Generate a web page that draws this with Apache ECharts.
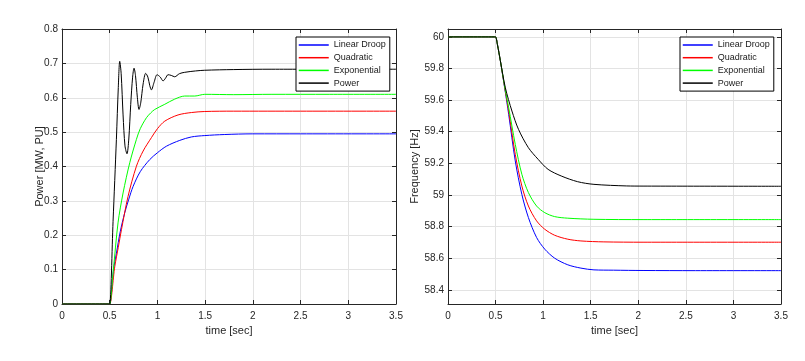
<!DOCTYPE html>
<html>
<head>
<meta charset="utf-8">
<script src="https://cdn.jsdelivr.net/npm/echarts@6/dist/echarts.min.js"></script>
<style>
html,body{margin:0;padding:0;background:#fff;}
#chart{width:805px;height:361px;}
</style>
</head>
<body>
<div id="chart"></div>
<script>
// ---- data (time [sec], value) ----
const seriesNames = ['Linear Droop', 'Quadratic', 'Exponential', 'Power'];
const seriesColors = ['#0000ff', '#ff0000', '#00ff00', '#000000'];

const xTicks = [0, 0.5, 1, 1.5, 2, 2.5, 3, 3.5];
const powerTicks = [0, 0.1, 0.2, 0.3, 0.4, 0.5, 0.6, 0.7, 0.8];
const freqTicks = [58.4, 58.6, 58.8, 59, 59.2, 59.4, 59.6, 59.8, 60];

// Left panel: Power [MW, PU]
const powerLinearDroop = [[0,0],[0.49,0],[0.5,0],[0.54,0.1],[0.57,0.148],[0.61,0.21],[0.657,0.265],[0.7,0.305],[0.745,0.342],[0.82,0.385],[0.919,0.42],[1.0,0.44],[1.094,0.459],[1.234,0.476],[1.356,0.486],[1.496,0.49],[1.7,0.493],[2.0,0.495],[2.5,0.495],[3.5,0.495]];
const powerQuadratic = [[0,0],[0.49,0],[0.5,0],[0.553,0.109],[0.59,0.165],[0.623,0.216],[0.692,0.313],[0.78,0.401],[0.85,0.445],[0.937,0.484],[1.0,0.51],[1.077,0.532],[1.216,0.55],[1.356,0.557],[1.496,0.56],[1.8,0.561],[2.5,0.561],[3.5,0.561]];
const powerExponential = [[0,0],[0.49,0],[0.5,0],[0.535,0.09],[0.587,0.236],[0.64,0.323],[0.71,0.411],[0.78,0.479],[0.82,0.51],[0.885,0.542],[0.93,0.556],[0.972,0.566],[1.077,0.581],[1.181,0.596],[1.286,0.605],[1.391,0.605],[1.496,0.61],[1.8,0.609],[2.2,0.61],[2.8,0.61],[3.5,0.61]];
const powerPower = [[0,0],[0.49,0],[0.5,0],[0.535,0.24],[0.57,0.479],[0.59,0.63],[0.605,0.706],[0.62,0.67],[0.64,0.55],[0.66,0.46],[0.681,0.437],[0.7,0.48],[0.72,0.58],[0.74,0.66],[0.755,0.686],[0.77,0.665],[0.79,0.6],[0.807,0.566],[0.825,0.585],[0.85,0.64],[0.877,0.671],[0.9,0.66],[0.92,0.635],[0.937,0.623],[0.965,0.645],[0.996,0.667],[1.03,0.66],[1.059,0.649],[1.085,0.657],[1.111,0.667],[1.145,0.665],[1.181,0.661],[1.23,0.67],[1.286,0.674],[1.4,0.678],[1.496,0.68],[1.8,0.682],[2.2,0.683],[3.5,0.683]];

// Right panel: Frequency [Hz]
const freqLinearDroop = [[0,60],[0.49,60],[0.5,60],[0.52,59.95],[0.55,59.85],[0.6,59.66],[0.638,59.509],[0.707,59.215],[0.776,59.004],[0.845,58.857],[0.931,58.731],[1.017,58.657],[1.121,58.6],[1.259,58.558],[1.397,58.537],[1.534,58.526],[1.741,58.524],[2.05,58.522],[2.6,58.521],[3.5,58.521]];
const freqQuadratic = [[0,60],[0.49,60],[0.5,60],[0.52,59.95],[0.55,59.85],[0.6,59.665],[0.638,59.53],[0.707,59.257],[0.776,59.057],[0.845,58.93],[0.931,58.836],[1.017,58.783],[1.121,58.745],[1.259,58.72],[1.397,58.709],[1.638,58.703],[2.05,58.701],[3.5,58.701]];
const freqExponential = [[0,60],[0.49,60],[0.5,60],[0.52,59.95],[0.55,59.85],[0.6,59.67],[0.638,59.552],[0.707,59.32],[0.776,59.131],[0.845,59.015],[0.931,58.93],[1.017,58.888],[1.121,58.863],[1.259,58.853],[1.534,58.846],[2.05,58.844],[3.5,58.844]];
const freqPower = [[0,60],[0.49,60],[0.5,60],[0.52,59.95],[0.55,59.85],[0.603,59.678],[0.672,59.531],[0.741,59.415],[0.845,59.299],[0.948,59.225],[1.052,59.162],[1.19,59.12],[1.362,59.084],[1.534,59.067],[1.879,59.057],[2.05,59.056],[3.5,59.055]];

const powerData = [powerLinearDroop, powerQuadratic, powerExponential, powerPower];
const freqData = [freqLinearDroop, freqQuadratic, freqExponential, freqPower];

// ---- chart ----
const AX = '#262626';
const GRID = '#e3e3e3';
const FONT = 'Liberation Sans, Arial, sans-serif';

function mainX(gi) {
  return {
    type: 'value', gridIndex: gi, min: 0, max: 3.5, interval: 0.5,
    name: 'time [sec]', nameLocation: 'middle', nameGap: 21, nameMoveOverlap: false,
    nameTextStyle: {color: AX, fontSize: 11, fontFamily: FONT},
    axisLine: {show: true, onZero: false, lineStyle: {color: AX, width: 1}},
    axisTick: {show: true, inside: true, length: 4, lineStyle: {color: AX}},
    axisLabel: {color: AX, fontSize: 10, fontFamily: FONT, margin: 7},
    splitLine: {show: true, lineStyle: {color: GRID, width: 1}}
  };
}
function topX(gi) {
  return {
    type: 'value', gridIndex: gi, min: 0, max: 3.5, interval: 0.5, position: 'top',
    axisLine: {show: true, onZero: false, lineStyle: {color: AX, width: 1}},
    axisTick: {show: true, inside: true, length: 4, lineStyle: {color: AX}},
    axisLabel: {show: false}, splitLine: {show: false}
  };
}

const option = {
  backgroundColor: '#ffffff',
  animation: false,
  grid: [
    {left: 62, top: 29, width: 334, height: 275},
    {left: 448, top: 29, width: 333, height: 275}
  ],
  xAxis: [mainX(0), mainX(1), topX(0), topX(1)],
  yAxis: [
    {
      type: 'value', gridIndex: 0, min: 0, max: 0.8, interval: 0.1,
      name: 'Power [MW, PU]', nameLocation: 'middle', nameGap: 17, nameMoveOverlap: false,
      nameTextStyle: {color: AX, fontSize: 11, fontFamily: FONT},
      axisLine: {show: true, onZero: false, lineStyle: {color: AX, width: 1}},
      axisTick: {show: true, inside: true, length: 4, lineStyle: {color: AX}},
      axisLabel: {color: AX, fontSize: 10, fontFamily: FONT, margin: 4},
      splitLine: {show: true, lineStyle: {color: GRID, width: 1}}
    },
    {
      type: 'value', gridIndex: 1, min: 58.31, max: 60.05,
      name: 'Frequency [Hz]', nameLocation: 'middle', nameGap: 28, nameMoveOverlap: false,
      nameTextStyle: {color: AX, fontSize: 11, fontFamily: FONT},
      axisLine: {show: true, onZero: false, lineStyle: {color: AX, width: 1}},
      axisTick: {show: true, inside: true, length: 4, lineStyle: {color: AX}, customValues: freqTicks},
      axisLabel: {color: AX, fontSize: 10, fontFamily: FONT, margin: 4, customValues: freqTicks,
        formatter: v => String(Math.round(v * 10) / 10)},
      splitLine: {show: true, lineStyle: {color: GRID, width: 1}}
    },
    {
      type: 'value', gridIndex: 0, min: 0, max: 0.8, interval: 0.1, position: 'right',
      axisLine: {show: true, onZero: false, lineStyle: {color: AX, width: 1}},
      axisTick: {show: true, inside: true, length: 4, lineStyle: {color: AX}},
      axisLabel: {show: false}, splitLine: {show: false}
    },
    {
      type: 'value', gridIndex: 1, min: 58.31, max: 60.05, position: 'right',
      axisLine: {show: true, onZero: false, lineStyle: {color: AX, width: 1}},
      axisTick: {show: true, inside: true, length: 4, lineStyle: {color: AX}, customValues: freqTicks},
      axisLabel: {show: false}, splitLine: {show: false}
    }
  ],
  legend: [0, 1].map(i => ({
    data: seriesNames,
    orient: 'vertical',
    left: i === 0 ? 296 : 680,
    top: 37,
    itemWidth: 30, itemHeight: 11, itemGap: 1.7,
    padding: [2.5, 4, 2.5, 2],
    backgroundColor: '#ffffff',
    borderColor: '#000000', borderWidth: 1, borderRadius: 0,
    itemStyle: {color: 'rgba(0,0,0,0)', borderWidth: 0, borderColor: 'rgba(0,0,0,0)'},
    lineStyle: {width: 1.5},
    textStyle: {color: '#1a1a1a', fontSize: 9, fontFamily: FONT, lineHeight: 11},
    selectedMode: false
  })),
  series: []
};

seriesNames.forEach((name, k) => {
  option.series.push({
    name, type: 'line', xAxisIndex: 0, yAxisIndex: 0,
    data: powerData[k], symbol: 'none', smooth: 0.3,
    lineStyle: {color: seriesColors[k], width: 1}, itemStyle: {color: seriesColors[k]},
    z: k === 3 ? 3 : 2
  });
  option.series.push({
    name, type: 'line', xAxisIndex: 1, yAxisIndex: 1,
    data: freqData[k], symbol: 'none', smooth: 0.3,
    lineStyle: {color: seriesColors[k], width: 1}, itemStyle: {color: seriesColors[k]},
    z: k === 3 ? 3 : 2
  });
});

const chart = echarts.init(document.getElementById('chart'), null, {renderer: 'canvas'});
chart.setOption(option);
</script>
</body>
</html>
